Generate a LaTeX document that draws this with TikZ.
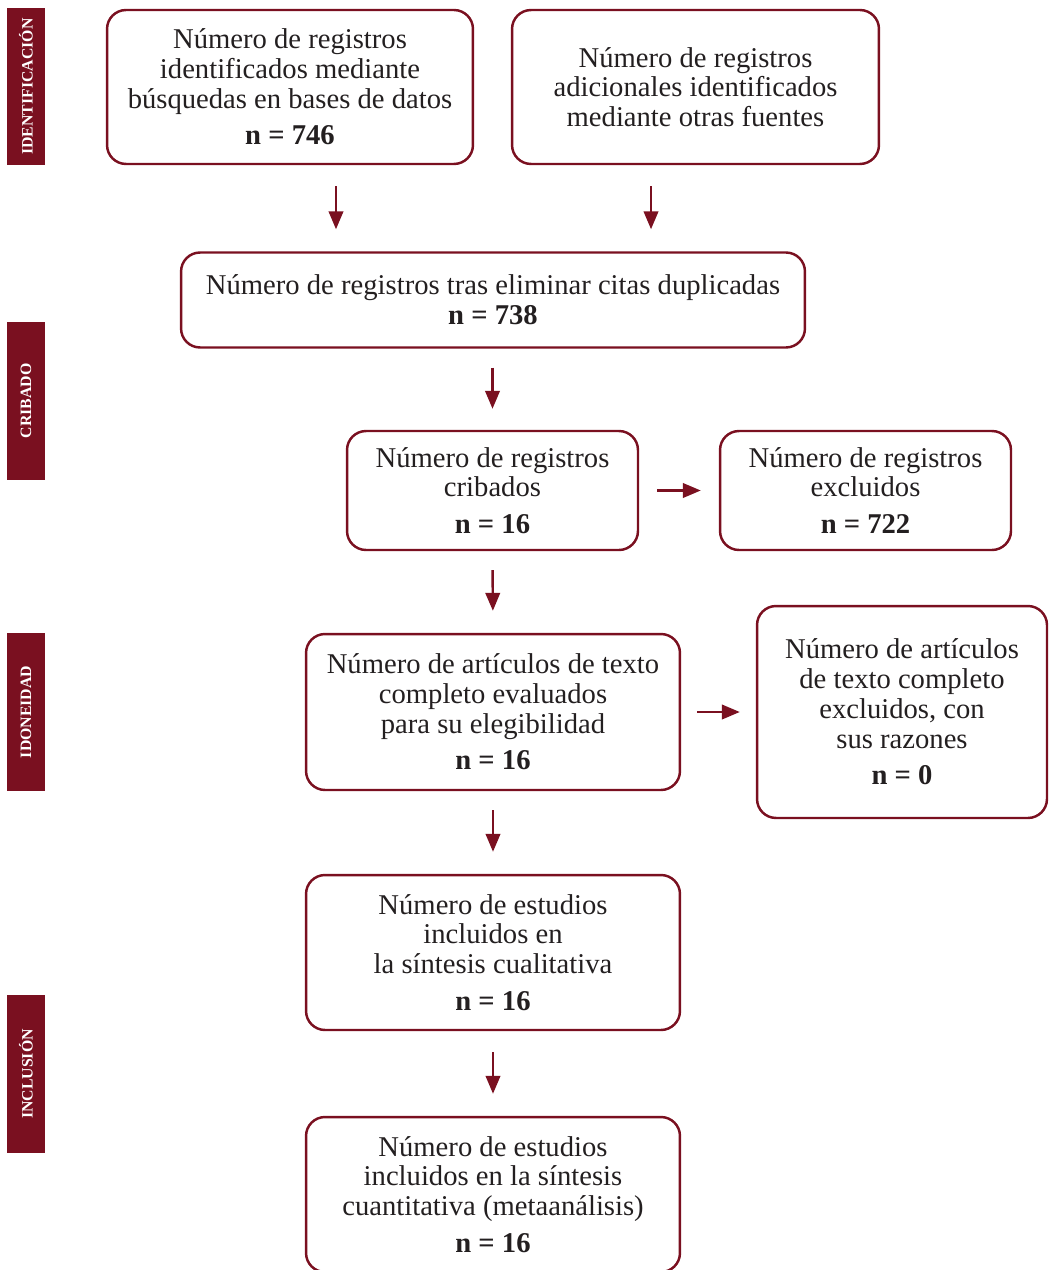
\documentclass[tikz,border=0pt]{standalone}
\usepackage{fontspec}
\setmainfont{Liberation Serif}
\usepackage{xcolor}
\usetikzlibrary{positioning}
\usetikzlibrary{arrows.meta}
\definecolor{prismared}{HTML}{7A1020}
\definecolor{prismatext}{HTML}{231F20}

\begin{document}
\begin{tikzpicture}[
      x=0.02cm, y=-0.02cm,
      type-box/.style={rectangle, rounded corners=0.38cm, draw=prismared, line width=1.4pt,
        text=prismatext, align=center, inner sep=0pt,
        font=\fontsize{16.3}{16.9}\selectfont},
      type-stage/.style={rectangle, fill=prismared, text=white, rotate=90,
        minimum width=3.16cm, minimum height=0.76cm, inner sep=0pt,
        font=\fontsize{9}{10}\selectfont\bfseries},
      type-flow/.style={-{Triangle[length=3.6mm,width=2.9mm]}, draw=prismared, line width=1.4pt}
    ]
      \useasboundingbox (0,0) rectangle (1050,1270);

      % fases
      \node[type-stage] (st-ident) at (26,86.5) {IDENTIFICACIÓN};
      \node[type-stage] (st-crib) at (26,401) {CRIBADO};
      \node[type-stage] (st-idon) at (26,712) {IDONEIDAD};
      \node[type-stage] (st-incl) at (26,1074) {INCLUSIÓN};

      % cajas
      \node[type-box, minimum width=7.32cm, minimum height=3.08cm] (ident-db) at (290,87)
        {Número de registros\\identificados mediante\\búsquedas en bases de datos\\[4pt]\textbf{n = 746}};
      \node[type-box, minimum width=7.34cm, minimum height=3.08cm] (ident-other) at (695.5,87)
        {Número de registros\\adicionales identificados\\mediante otras fuentes};
      \node[type-box, minimum width=12.48cm, minimum height=1.9cm] (dedup) at (493,300)
        {Número de registros tras eliminar citas duplicadas\\\textbf{n = 738}};
      \node[type-box, minimum width=5.82cm, minimum height=2.38cm] (screened) at (492.5,490.5)
        {Número de registros\\cribados\\[4pt]\textbf{n = 16}};
      \node[type-box, minimum width=5.82cm, minimum height=2.38cm] (excluded) at (865.5,490.5)
        {Número de registros\\excluidos\\[4pt]\textbf{n = 722}};
      \node[type-box, minimum width=7.48cm, minimum height=3.12cm] (fulltext) at (493,712)
        {Número de artículos de texto\\completo evaluados\\para su elegibilidad\\[4pt]\textbf{n = 16}};
      \node[type-box, minimum width=5.8cm, minimum height=4.24cm] (ft-excl) at (902,712)
        {Número de artículos\\de texto completo\\excluidos, con\\sus razones\\[4pt]\textbf{n = 0}};
      \node[type-box, minimum width=7.48cm, minimum height=3.1cm] (qualit) at (493,952.5)
        {Número de estudios\\incluidos en\\la síntesis cualitativa\\[4pt]\textbf{n = 16}};
      \node[type-box, minimum width=7.48cm, minimum height=3.1cm] (quantit) at (493,1194.5)
        {Número de estudios\\incluidos en la síntesis\\cuantitativa (metaanálisis)\\[4pt]\textbf{n = 16}};

      % flechas
      \draw[type-flow, shorten <=0.42cm, shorten >=0.44cm]
        ([xshift=0.92cm]ident-db.south) -- ([xshift=0.92cm]ident-db.south |- dedup.north);
      \draw[type-flow, shorten <=0.42cm, shorten >=0.44cm]
        ([xshift=-0.89cm]ident-other.south) -- ([xshift=-0.89cm]ident-other.south |- dedup.north);
      \draw[type-flow, shorten <=0.38cm, shorten >=0.42cm] (dedup.south -| screened) -- (screened.north);
      \draw[type-flow, shorten <=0.36cm, shorten >=0.36cm] (screened.east) -- (excluded.west);
      \draw[type-flow, shorten <=0.38cm, shorten >=0.44cm] (screened.south) -- (fulltext.north);
      \draw[type-flow, shorten <=0.32cm, shorten >=0.32cm] (fulltext.east) -- (ft-excl.west);
      \draw[type-flow, shorten <=0.38cm, shorten >=0.44cm] (fulltext.south) -- (qualit.north);
      \draw[type-flow, shorten <=0.42cm, shorten >=0.44cm] (qualit.south) -- (quantit.north);
    \end{tikzpicture}
\end{document}
